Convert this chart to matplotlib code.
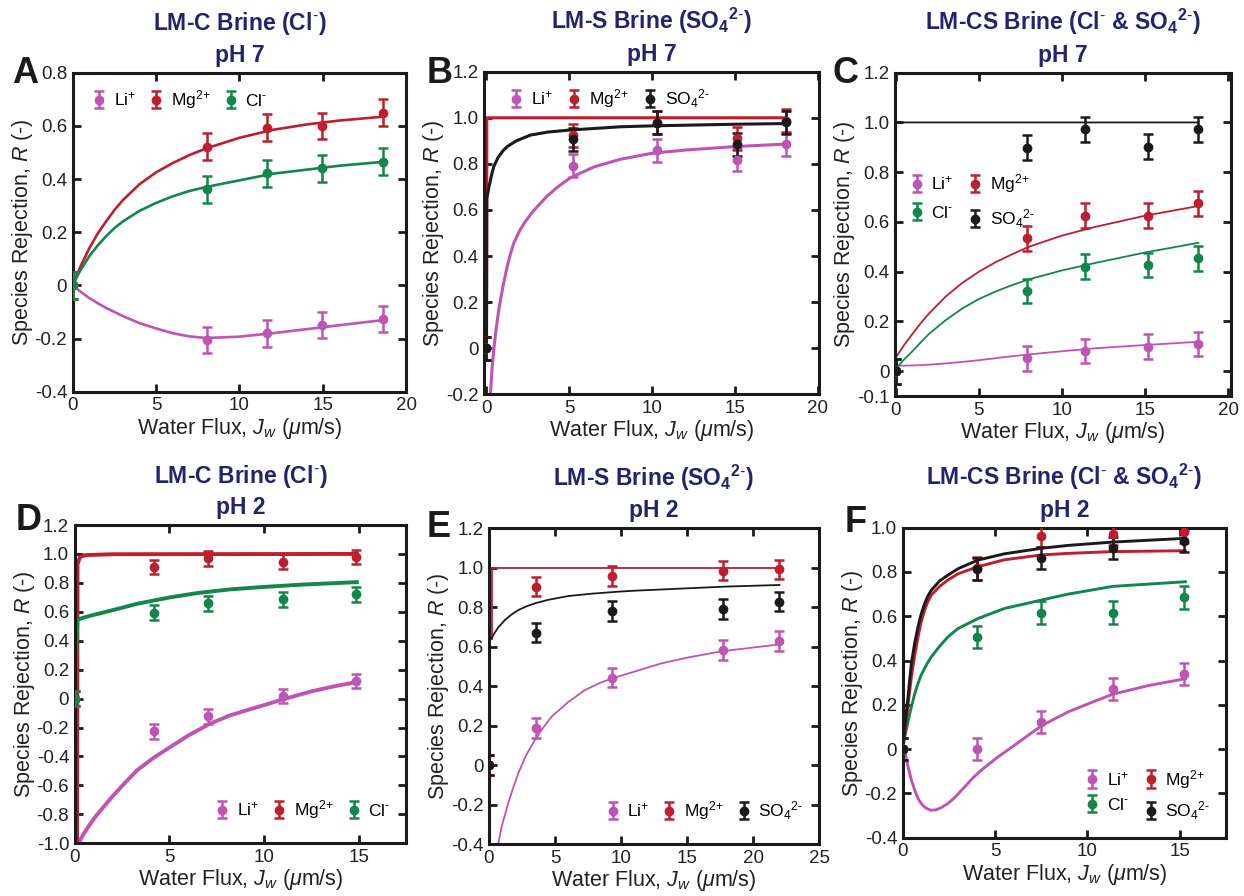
import numpy as np
import matplotlib
matplotlib.use("Agg")
import matplotlib.pyplot as plt

plt.rcParams['font.family'] = ['Liberation Sans', 'DejaVu Sans']
plt.rcParams['mathtext.fontset'] = 'custom'
plt.rcParams['mathtext.rm'] = 'Liberation Sans'
plt.rcParams['mathtext.it'] = 'Liberation Sans:italic'
plt.rcParams['mathtext.bf'] = 'Liberation Sans:bold'
plt.rcParams['axes.unicode_minus'] = False

PINK = '#c054b4'
RED = '#be1e2d'
GREEN = '#13874a'
BLACK = '#1a1a1a'
NAVY = '#23236e'

# ---------------- Panel A (LM-C, pH 7) ----------------
a_x = [0, 8.04, 11.64, 14.94, 18.64]
a_li = [0, -0.206, -0.181, -0.149, -0.127]
a_mg = [0, 0.522, 0.593, 0.599, 0.650]
a_cl = [0, 0.361, 0.421, 0.440, 0.465]
a_err = [0.05, 0.05, 0.05, 0.05, 0.05]
a_fit_x = [0, 0.25, 0.5, 1, 1.5, 2, 2.5, 3, 4, 5, 6, 7, 8, 10, 12, 14, 16, 18.7]
a_li_fit = [0, -0.013, -0.025, -0.048, -0.067, -0.085, -0.1, -0.115, -0.142, -0.162, -0.18, -0.192, -0.198, -0.193, -0.18, -0.165, -0.15, -0.13]
a_mg_fit = [0, 0.04, 0.075, 0.14, 0.195, 0.24, 0.283, 0.32, 0.38, 0.425, 0.46, 0.49, 0.515, 0.555, 0.585, 0.605, 0.62, 0.635]
a_cl_fit = [0, 0.032, 0.06, 0.11, 0.15, 0.185, 0.215, 0.24, 0.28, 0.31, 0.335, 0.355, 0.37, 0.395, 0.42, 0.435, 0.45, 0.465]

# ---------------- Panel B (LM-S, pH 7) ----------------
b_x = [0, 5.2, 10.3, 15.1, 18.1]
b_li = [0, 0.792, 0.860, 0.817, 0.885]
b_mg = [0, 0.925, 0.979, 0.911, 0.987]
b_so4 = [0, 0.906, 0.979, 0.886, 0.980]
b_err = [0.05, 0.05, 0.05, 0.05, 0.05]
b_li_fit_x = [0.12, 0.24, 0.3, 0.35, 0.44, 0.55, 0.65, 0.75, 0.85, 1.0, 1.25, 1.45, 1.65, 2.0, 2.3,
              2.66, 3.1, 3.66, 4.3, 5.07, 6.5, 8.09, 10, 12, 15, 18.1]
b_li_fit = [-0.45, -0.2, -0.13, -0.075, -0.007, 0.065, 0.12, 0.17, 0.21, 0.27, 0.354, 0.41, 0.456, 0.51, 0.545,
            0.58, 0.617, 0.66, 0.70, 0.74, 0.787, 0.82, 0.846, 0.86, 0.875, 0.886]
b_mg_fit_x = [0, 0.02, 18.1]
b_mg_fit = [0, 1.0, 1.0]
b_so4_fit_x = [0, 0.02, 0.15, 0.3, 0.44, 0.7, 1.0, 1.25, 1.8, 2.66, 3.7, 5.07, 8.09, 10, 15, 18.1]
b_so4_fit = [0, 0.65, 0.70, 0.75, 0.788, 0.828, 0.857, 0.875, 0.9, 0.925, 0.938, 0.947, 0.961, 0.965, 0.972, 0.975]

# ---------------- Panel C (LM-CS, pH 7) ----------------
c_x = [0, 7.92, 11.4, 15.2, 18.2]
c_li = [0, 0.051, 0.081, 0.098, 0.109]
c_mg = [0, 0.534, 0.625, 0.625, 0.675]
c_cl = [0, 0.322, 0.420, 0.427, 0.453]
c_so4 = [0, 0.898, 0.972, 0.902, 0.972]
c_err = [0.05, 0.05, 0.05, 0.05, 0.05]
c_fit_x = [0, 0.5, 1, 1.5, 2, 3, 4, 5, 6, 7, 8, 10, 12, 15, 18.2]
c_li_fit = [0.022, 0.022, 0.023, 0.024, 0.026, 0.031, 0.037, 0.044, 0.052, 0.06, 0.067, 0.08, 0.092, 0.105, 0.118]
c_mg_fit = [0.055, 0.105, 0.15, 0.193, 0.232, 0.30, 0.355, 0.4, 0.438, 0.47, 0.50, 0.545, 0.58, 0.625, 0.664]
c_cl_fit = [0.01, 0.047, 0.08, 0.116, 0.15, 0.205, 0.252, 0.29, 0.32, 0.346, 0.369, 0.405, 0.435, 0.477, 0.516]
c_so4_fit_x = [0, 0.02, 18.2]
c_so4_fit = [0, 1.0, 1.0]

# ---------------- Panel D (LM-C, pH 2) ----------------
d_x = [0, 4.19, 7.06, 10.99, 14.86]
d_li = [0, -0.226, -0.122, 0.018, 0.120]
d_mg = [0, 0.908, 0.970, 0.947, 0.977]
d_cl = [0, 0.594, 0.658, 0.686, 0.721]
d_err = [0.05, 0.05, 0.05, 0.05, 0.05]
d_li_fit_x = [0.2, 0.28, 0.5, 0.8, 1.1, 1.51, 2.0, 2.6, 3.28, 4.1, 5.04, 6.0, 7.15, 8.2, 9.1, 10, 11, 12.5, 13.7, 14.9]
d_li_fit = [-1.1, -0.98, -0.93, -0.87, -0.815, -0.751, -0.675, -0.59, -0.497, -0.415, -0.335, -0.255, -0.173,
            -0.116, -0.08, -0.045, -0.005, 0.05, 0.085, 0.115]
d_mg_fit_x = [0.12, 0.15, 0.28, 0.6, 2, 14.9]
d_mg_fit = [-1.2, 0.93, 0.98, 0.992, 0.998, 1.0]
d_cl_fit_x = [0, 0.14, 0.3, 0.8, 1.51, 2.5, 3.28, 5.04, 6.5, 8.2, 10, 12, 14.9]
d_cl_fit = [0, 0.543, 0.553, 0.572, 0.595, 0.628, 0.655, 0.70, 0.73, 0.755, 0.772, 0.788, 0.805]

# ---------------- Panel E (LM-S, pH 2) ----------------
e_x = [0, 3.53, 9.35, 17.7, 22.0]
e_li = [0, 0.187, 0.444, 0.584, 0.631]
e_mg = [0, 0.905, 0.960, 0.986, 0.992]
e_so4 = [0, 0.672, 0.783, 0.792, 0.829]
e_err = [0.05, 0.05, 0.05, 0.05, 0.05]
e_li_fit_x = [0.5, 0.7, 1.0, 1.46, 1.8, 2.22, 2.8, 3.48, 4.1, 4.74, 6.0, 7.26, 8.5, 9.77, 11.0, 13, 15, 17.7, 22]
e_li_fit = [-0.47, -0.395, -0.30, -0.192, -0.12, -0.04, 0.05, 0.128, 0.19, 0.246, 0.32, 0.381, 0.42, 0.449,
            0.474, 0.515, 0.545, 0.578, 0.612]
e_mg_fit_x = [0.2, 0.2, 22.0]
e_mg_fit = [0.64, 1.0, 1.0]
e_so4_fit_x = [0.2, 0.4, 0.7, 1.21, 1.7, 2.22, 2.8, 3.48, 4.5, 6.0, 7.8, 9.77, 11.0, 15, 18, 22]
e_so4_fit = [0.643, 0.668, 0.698, 0.736, 0.763, 0.786, 0.804, 0.82, 0.838, 0.857, 0.869, 0.879, 0.884, 0.896,
             0.905, 0.913]

# ---------------- Panel F (LM-CS, pH 2) ----------------
f_x = [0, 4.03, 7.49, 11.37, 15.25]
f_li = [0, 0.0, 0.123, 0.271, 0.339]
f_mg = [0, 0.816, 0.962, 0.970, 0.980]
f_cl = [0, 0.508, 0.617, 0.617, 0.685]
f_so4 = [0, 0.813, 0.864, 0.907, 0.940]
f_err = [0.05, 0.05, 0.05, 0.05, 0.05]
f_li_fit_x = [0, 0.11, 0.2, 0.29, 0.47, 0.65, 0.83, 1.0, 1.19, 1.35, 1.55, 1.8, 2.1, 2.45, 2.8, 3.36, 3.8,
              4.26, 4.7, 5.16, 6.06, 7.5, 8.95, 10.2, 11.37, 13.3, 15.3]
f_li_fit = [0, -0.01, -0.045, -0.08, -0.14, -0.185, -0.223, -0.245, -0.262, -0.27, -0.276, -0.274, -0.264,
            -0.245, -0.22, -0.17, -0.13, -0.095, -0.065, -0.035, 0.018, 0.105, 0.168, 0.21, 0.248, 0.287, 0.318]
f_fit_x = [0, 0.11, 0.2, 0.29, 0.38, 0.47, 0.65, 0.83, 1.0, 1.19, 1.35, 1.55, 2.0, 2.45, 3.0, 4.08, 5.5, 7.5,
           8.95, 11.37, 15.3]
f_mg_fit = [0, 0.07, 0.135, 0.2, 0.265, 0.327, 0.425, 0.507, 0.575, 0.628, 0.665, 0.696, 0.735, 0.764, 0.792,
            0.824, 0.855, 0.877, 0.884, 0.892, 0.896]
f_cl_fit = [0, 0.055, 0.09, 0.125, 0.16, 0.191, 0.25, 0.297, 0.335, 0.365, 0.39, 0.417, 0.465, 0.507, 0.545,
            0.59, 0.635, 0.673, 0.70, 0.735, 0.756]
f_so4_fit = [0, 0.10, 0.17, 0.236, 0.315, 0.387, 0.48, 0.553, 0.61, 0.658, 0.69, 0.718, 0.76, 0.786, 0.815,
             0.854, 0.882, 0.907, 0.92, 0.935, 0.952]

LBL_LI = 'Li$^{\\text{+}}$'
LBL_MG = 'Mg$^{\\text{2+}}$'
LBL_CL = 'Cl$^{\\text{-}}$'
LBL_SO4 = 'SO$_{4}$$^{\\text{2-}}$'

W, H = 1244, 896
fig = plt.figure(figsize=(W / 100, H / 100), dpi=100)


def px_axes(l, t, r, b):
    return fig.add_axes([l / W, 1 - b / H, (r - l) / W, (b - t) / H])


def style(ax, xlim, xticks, ylim, yticks):
    ax.set_xlim(*xlim)
    ax.set_ylim(*ylim)
    ax.set_xticks(xticks)
    ax.set_xticklabels([str(t) for t in xticks])
    ax.set_yticks(yticks)
    ax.set_yticklabels(['0' if abs(v) < 1e-9 else f'{v:.1f}' for v in yticks])
    for s in ax.spines.values():
        s.set_linewidth(2.2)
        s.set_color('#1a1a1a')
    ax.tick_params(direction='in', length=6, width=2, top=True, right=True,
                   labelsize=13.5, pad=4, colors='#1a1a1a', labelcolor='#222222')
    ax.set_xlabel('Water Flux, $J_w$ ($\\mu$m/s)', fontsize=15.5, labelpad=1, color='#222222')
    ax.set_ylabel('Species Rejection, $R$ (-)', fontsize=15.5, labelpad=0, color='#222222')


def pts(ax, x, y, err, color, label):
    return ax.errorbar(x, y, yerr=err, fmt='o', color=color, ms=6, elinewidth=1.8,
                       capsize=3.5, capthick=1.8, label=label, zorder=5)


def title(ax, text):
    ax.set_title(text, fontsize=16.5, fontweight='bold', color=NAVY, pad=8, linespacing=1.35)


def letter(x, y, s):
    fig.text(x / W, 1 - y / H, s, fontsize=26, fontweight='bold', color='#1a1a1a',
             ha='left', va='baseline')


LEG = dict(frameon=False, fontsize=12.5, handlelength=0.7, handletextpad=0.5)
T_CL = 'Cl$^{\\text{-}}$'
T_SO4 = 'SO$_{\\mathbf{4}}$$^{\\mathbf{2}\\text{-}}$'

# ---- A ----
ax = px_axes(72.7, 72.7, 406, 391.7)
ax.plot(a_fit_x, a_li_fit, color=PINK, lw=1.9)
ax.plot(a_fit_x, a_mg_fit, color=RED, lw=1.9)
ax.plot(a_fit_x, a_cl_fit, color=GREEN, lw=1.9)
pts(ax, a_x, a_li, a_err, PINK, LBL_LI)
pts(ax, a_x, a_mg, a_err, RED, LBL_MG)
pts(ax, a_x, a_cl, a_err, GREEN, LBL_CL)
style(ax, (0, 20), [0, 5, 10, 15, 20], (-0.4, 0.8), [-0.4, -0.2, 0, 0.2, 0.4, 0.6, 0.8])
title(ax, 'LM-C Brine (' + T_CL + ')\npH 7')
ax.legend(loc='upper left', bbox_to_anchor=(0.015, 1.0), ncol=3, columnspacing=0.8, **LEG)
letter(12, 83, 'A')

# ---- B ----
ax = px_axes(484, 71.7, 819.3, 394.3)
ax.plot(b_li_fit_x, b_li_fit, color=PINK, lw=2.2)
ax.plot(b_mg_fit_x, b_mg_fit, color=RED, lw=2.2)
ax.plot(b_so4_fit_x, b_so4_fit, color=BLACK, lw=2.2)
pts(ax, b_x, b_li, b_err, PINK, LBL_LI)
pts(ax, b_x, b_mg, b_err, RED, LBL_MG)
pts(ax, b_x, b_so4, b_err, BLACK, LBL_SO4)
style(ax, (-0.15, 20.1), [0, 5, 10, 15, 20], (-0.2, 1.2), [-0.2, 0, 0.2, 0.4, 0.6, 0.8, 1.0, 1.2])
title(ax, 'LM-S Brine (' + T_SO4 + ')\npH 7')
ax.legend(loc='upper left', bbox_to_anchor=(0.03, 1.0), ncol=3, columnspacing=0.9, **LEG)
letter(427, 83, 'B')

# ---- C ----
ax = px_axes(895, 72.7, 1230.7, 396)
ax.plot(c_fit_x, c_li_fit, color=PINK, lw=1.3)
ax.plot(c_fit_x, c_mg_fit, color=RED, lw=1.3)
ax.plot(c_fit_x, c_cl_fit, color=GREEN, lw=1.3)
ax.plot(c_so4_fit_x, c_so4_fit, color=BLACK, lw=1.3)
h1 = pts(ax, c_x, c_li, c_err, PINK, LBL_LI)
h2 = pts(ax, c_x, c_mg, c_err, RED, LBL_MG)
h3 = pts(ax, c_x, c_cl, c_err, GREEN, LBL_CL)
h4 = pts(ax, c_x, c_so4, c_err, BLACK, LBL_SO4)
style(ax, (-0.05, 20.15), [0, 5, 10, 15, 20], (-0.1, 1.2), [-0.1, 0, 0.2, 0.4, 0.6, 0.8, 1.0, 1.2])
title(ax, 'LM-CS Brine (' + T_CL + ' & ' + T_SO4 + ')\npH 7')
ax.legend(handles=[h1, h3, h2, h4], loc='upper left', bbox_to_anchor=(0.0, 0.74), ncol=2,
          columnspacing=0.9, labelspacing=0.7, **LEG)
letter(833, 83, 'C')

# ---- D ----
ax = px_axes(74.7, 525, 406, 843.3)
ax.plot(d_li_fit_x, d_li_fit, color=PINK, lw=2.8)
ax.plot(d_mg_fit_x, d_mg_fit, color=RED, lw=2.8)
ax.plot(d_cl_fit_x, d_cl_fit, color=GREEN, lw=2.8)
pts(ax, d_x, d_li, d_err, PINK, LBL_LI)
pts(ax, d_x, d_mg, d_err, RED, LBL_MG)
pts(ax, d_x, d_cl, d_err, GREEN, LBL_CL)
style(ax, (0, 17.5), [0, 5, 10, 15], (-1.0, 1.2),
      [-1.0, -0.8, -0.6, -0.4, -0.2, 0, 0.2, 0.4, 0.6, 0.8, 1.0, 1.2])
title(ax, 'LM-C Brine (' + T_CL + ')\npH 2')
ax.legend(loc='lower right', bbox_to_anchor=(1.0, 0.02), ncol=3, columnspacing=0.8, **LEG)
letter(16, 530, 'D')

# ---- E ----
ax = px_axes(489, 528.3, 819, 844.3)
ax.plot(e_li_fit_x, e_li_fit, color=PINK, lw=1.3)
ax.plot(e_mg_fit_x, e_mg_fit, color=RED, lw=1.3)
ax.plot(e_so4_fit_x, e_so4_fit, color=BLACK, lw=1.3)
pts(ax, e_x, e_li, e_err, PINK, LBL_LI)
pts(ax, e_x, e_mg, e_err, RED, LBL_MG)
pts(ax, e_x, e_so4, e_err, BLACK, LBL_SO4)
style(ax, (0, 25), [0, 5, 10, 15, 20, 25], (-0.4, 1.2), [-0.4, -0.2, 0, 0.2, 0.4, 0.6, 0.8, 1.0, 1.2])
title(ax, 'LM-S Brine (' + T_SO4 + ')\npH 2')
ax.legend(loc='lower right', bbox_to_anchor=(1.0, 0.02), ncol=3, columnspacing=0.8, **LEG)
letter(427, 537, 'E')

# ---- F ----
ax = px_axes(902.7, 527.7, 1226, 837.7)
ax.plot(f_li_fit_x, f_li_fit, color=PINK, lw=2.1)
ax.plot(f_fit_x, f_cl_fit, color=GREEN, lw=2.1)
ax.plot(f_fit_x, f_mg_fit, color=RED, lw=2.1)
ax.plot(f_fit_x, f_so4_fit, color=BLACK, lw=2.1)
h1 = pts(ax, f_x, f_li, f_err, PINK, LBL_LI)
h2 = pts(ax, f_x, f_mg, f_err, RED, LBL_MG)
h3 = pts(ax, f_x, f_cl, f_err, GREEN, LBL_CL)
h4 = pts(ax, f_x, f_so4, f_err, BLACK, LBL_SO4)
style(ax, (0, 17.5), [0, 5, 10, 15], (-0.4, 1.0), [-0.4, -0.2, 0, 0.2, 0.4, 0.6, 0.8, 1.0])
title(ax, 'LM-CS Brine (' + T_CL + ' & ' + T_SO4 + ')\npH 2')
ax.legend(handles=[h1, h3, h2, h4], loc='lower right', bbox_to_anchor=(1.0, 0.0), ncol=2,
          columnspacing=0.9, labelspacing=0.5, **LEG)
letter(845, 532, 'F')

fig.savefig('out.png', dpi=100)
